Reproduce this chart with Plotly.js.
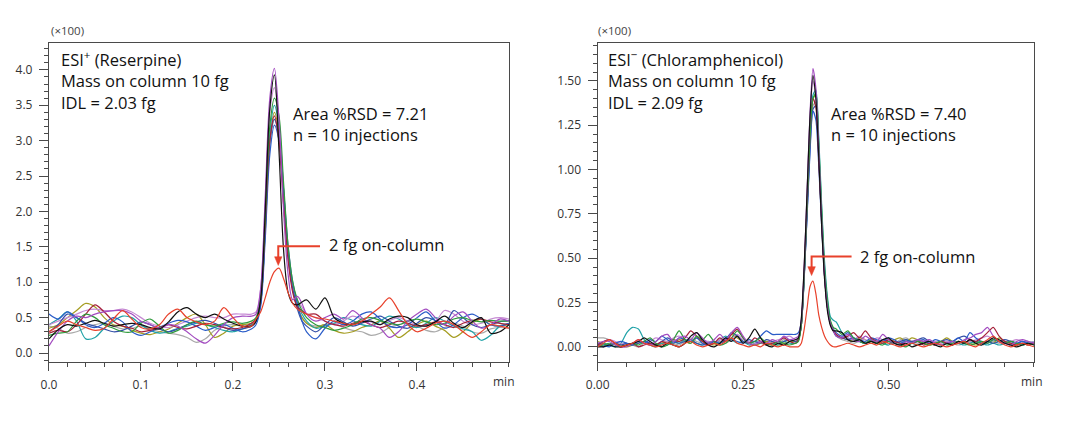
<!DOCTYPE html>
<html>
<head>
<meta charset="utf-8">
<script src="https://cdn.plot.ly/plotly-3.0.1.min.js"></script>
<style>html,body{margin:0;padding:0;background:#fff}#chart{width:1090px;height:424px}</style>
</head>
<body>
<div id="chart"></div>
<script>
// ---------------- DATA ----------------
// Left panel: ESI+ (Reserpine), time in min, intensity (x100)
const tPos = [0,0.01,0.02,0.03,0.04,0.05,0.06,0.07,0.08,0.09,0.10,0.11,0.12,0.13,0.14,0.15,0.16,0.17,0.18,0.19,0.20,0.21,0.22,
  0.225,0.23,0.235,0.24,0.245,0.25,0.255,0.26,0.265,0.27,0.275,0.28,
  0.29,0.30,0.31,0.32,0.33,0.34,0.35,0.36,0.37,0.38,0.39,0.40,0.41,0.42,0.43,0.44,0.45,0.46,0.47,0.48,0.49,0.50];

const posBlack = [0.20,0.33,0.40,0.38,0.42,0.46,0.42,0.38,0.40,0.42,0.40,0.36,0.34,0.44,0.58,0.64,0.55,0.50,0.55,0.48,0.42,0.38,0.38,
  0.45,0.75,2.0,3.45,3.93,2.85,1.45,0.85,0.70,0.68,0.72,0.75,
  0.62,0.78,0.50,0.42,0.40,0.44,0.45,0.40,0.48,0.52,0.50,0.40,0.38,0.44,0.52,0.42,0.36,0.44,0.50,0.28,0.30,0.40];
const posPurple = [0.10,0.30,0.45,0.52,0.50,0.55,0.58,0.60,0.60,0.55,0.45,0.40,0.35,0.40,0.38,0.30,0.20,0.14,0.25,0.40,0.50,0.52,0.52,
  0.55,0.90,2.2,3.6,4.02,3.3,2.0,1.1,0.75,0.80,0.70,0.55,
  0.45,0.50,0.55,0.48,0.60,0.50,0.40,0.35,0.22,0.30,0.45,0.55,0.62,0.50,0.40,0.52,0.58,0.45,0.35,0.40,0.48,0.45];
const posGreen = [0.25,0.28,0.30,0.45,0.55,0.50,0.40,0.35,0.30,0.30,0.42,0.48,0.38,0.28,0.32,0.40,0.45,0.40,0.38,0.42,0.44,0.42,0.45,
  0.50,0.80,1.9,3.2,3.6,3.35,2.4,1.5,1.0,0.75,0.60,0.50,
  0.40,0.36,0.32,0.35,0.40,0.48,0.50,0.46,0.42,0.40,0.45,0.48,0.44,0.40,0.42,0.48,0.50,0.46,0.44,0.46,0.45,0.45];
const posDarkRed = [0.28,0.32,0.30,0.40,0.55,0.68,0.58,0.45,0.38,0.35,0.30,0.32,0.36,0.40,0.36,0.34,0.38,0.42,0.40,0.36,0.34,0.36,0.42,
  0.48,0.75,1.8,3.0,3.35,3.0,2.1,1.3,0.85,0.65,0.60,0.55,
  0.55,0.45,0.40,0.38,0.42,0.45,0.40,0.36,0.40,0.45,0.42,0.38,0.40,0.44,0.40,0.36,0.42,0.46,0.48,0.44,0.42,0.40];
const posBlue = [0.55,0.48,0.58,0.50,0.40,0.36,0.42,0.50,0.44,0.30,0.25,0.30,0.36,0.42,0.46,0.44,0.38,0.32,0.36,0.40,0.35,0.30,0.34,
  0.40,0.65,1.6,2.8,3.22,3.0,2.3,1.5,1.0,0.70,0.45,0.30,
  0.20,0.35,0.45,0.40,0.45,0.55,0.58,0.48,0.38,0.36,0.40,0.50,0.58,0.45,0.35,0.40,0.50,0.55,0.48,0.40,0.38,0.42];
const posTeal = [0.40,0.48,0.58,0.45,0.20,0.22,0.35,0.45,0.52,0.50,0.40,0.32,0.28,0.30,0.35,0.38,0.42,0.40,0.36,0.32,0.30,0.34,0.40,
  0.46,0.70,1.8,3.1,3.5,3.2,2.3,1.4,0.95,0.70,0.55,0.45,
  0.35,0.38,0.42,0.50,0.46,0.40,0.38,0.45,0.52,0.48,0.40,0.36,0.42,0.50,0.45,0.38,0.34,0.30,0.18,0.25,0.38,0.42];
const posOlive = [0.35,0.40,0.50,0.60,0.70,0.65,0.50,0.40,0.38,0.32,0.28,0.26,0.30,0.34,0.42,0.50,0.55,0.40,0.22,0.28,0.38,0.40,0.42,
  0.48,0.72,1.7,3.0,3.4,3.1,2.2,1.4,0.9,0.65,0.50,0.42,
  0.36,0.40,0.32,0.28,0.30,0.36,0.40,0.45,0.35,0.22,0.30,0.40,0.45,0.38,0.32,0.22,0.30,0.42,0.48,0.40,0.38,0.40];
const posGray = [0.38,0.35,0.28,0.30,0.36,0.40,0.42,0.38,0.34,0.35,0.38,0.34,0.30,0.28,0.26,0.22,0.15,0.20,0.32,0.38,0.40,0.38,0.40,
  0.45,0.70,1.7,2.9,3.3,3.0,2.1,1.3,0.9,0.65,0.50,0.42,
  0.38,0.40,0.42,0.36,0.32,0.30,0.25,0.28,0.36,0.40,0.42,0.38,0.32,0.30,0.36,0.42,0.38,0.30,0.28,0.34,0.36,0.35];
const posLavender = [0.40,0.45,0.50,0.55,0.60,0.62,0.60,0.60,0.62,0.58,0.50,0.42,0.38,0.36,0.40,0.45,0.50,0.52,0.50,0.50,0.55,0.55,0.55,
  0.58,0.90,2.1,3.4,3.75,3.3,2.3,1.4,0.95,0.75,0.65,0.55,
  0.50,0.45,0.40,0.45,0.52,0.48,0.44,0.40,0.46,0.50,0.45,0.40,0.38,0.44,0.60,0.55,0.45,0.40,0.42,0.48,0.50,0.48];
const posNavy = [0.30,0.40,0.55,0.50,0.42,0.38,0.34,0.30,0.32,0.38,0.44,0.40,0.34,0.30,0.34,0.40,0.44,0.46,0.42,0.36,0.32,0.34,0.38,
  0.44,0.70,1.75,3.0,3.3,3.05,2.2,1.4,0.9,0.62,0.45,0.38,
  0.30,0.40,0.50,0.44,0.38,0.42,0.48,0.52,0.45,0.38,0.35,0.42,0.50,0.46,0.40,0.60,0.50,0.40,0.36,0.40,0.44,0.46];
const pos2fg = [0.30,0.38,0.45,0.40,0.36,0.32,0.35,0.48,0.60,0.48,0.36,0.34,0.40,0.55,0.62,0.50,0.44,0.40,0.45,0.64,0.50,0.38,0.38,
  0.48,0.58,0.78,1.0,1.15,1.2,1.05,0.85,0.70,0.62,0.58,0.55,
  0.50,0.48,0.45,0.42,0.40,0.45,0.55,0.65,0.78,0.60,0.40,0.30,0.35,0.42,0.45,0.40,0.30,0.22,0.30,0.40,0.38,0.35];

// Right panel: ESI- (Chloramphenicol)
const tNeg = [0,0.01,0.02,0.03,0.04,0.05,0.06,0.07,0.08,0.09,0.10,0.11,0.12,0.13,0.14,0.15,0.16,0.17,0.18,0.19,
  0.20,0.21,0.22,0.23,0.24,0.25,0.26,0.27,0.28,0.29,0.30,0.31,0.32,0.33,0.34,
  0.345,0.35,0.355,0.36,0.365,0.37,0.375,0.38,0.385,0.39,0.395,0.40,0.405,
  0.41,0.42,0.43,0.44,0.45,0.46,0.47,0.48,0.49,0.50,0.51,0.52,0.53,0.54,0.55,0.56,0.57,0.58,0.59,0.60,
  0.61,0.62,0.63,0.64,0.65,0.66,0.67,0.68,0.69,0.70,0.71,0.72,0.73,0.74,0.75];

const negBlack = [0.0,0.0,0.01,0.0,0.0,0.01,0.02,0.03,0.05,0.03, 0.01,0.0,0.02,0.01,0.0,0.02,0.06,0.08,0.04,0.01, 0.0,0.02,0.05,0.03,0.06,0.02,0.05,0.10,0.05,0.01, 0.0,0.02,0.01,0.03,0.04,
  0.05,0.16,0.46,0.88,1.30,1.53,1.40,1.07,0.68,0.38,0.20,0.12,0.09,
  0.09,0.08,0.04,0.03,0.04,0.02,0.03,0.02,0.04,0.05, 0.02,0.01,0.02,0.0,0.01,0.02,0.03,0.01,0.0,0.02, 0.01,0.03,0.02,0.04,0.02,0.01,0.03,0.05,0.04,0.02, 0.01,0.0,0.01,0.02,0.01];
const negPurple = [0.02,0.03,0.03,0.01,0.0,0.0,0.02,0.04,0.02,0.01, 0.03,0.06,0.07,0.03,0.05,0.06,0.04,0.08,0.05,0.02, 0.04,0.07,0.04,0.08,0.11,0.06,0.02,0.01,0.03,0.02, 0.04,0.03,0.06,0.04,0.05,
  0.06,0.15,0.45,0.88,1.32,1.57,1.46,1.12,0.72,0.40,0.22,0.13,0.09,
  0.06,0.05,0.07,0.04,0.03,0.06,0.04,0.03,0.07,0.04, 0.02,0.01,0.03,0.02,0.04,0.03,0.04,0.02,0.01,0.02, 0.03,0.02,0.04,0.05,0.07,0.08,0.11,0.06,0.03,0.02, 0.01,0.03,0.04,0.03,0.02];
const negGreen = [0.0,0.01,0.02,0.01,0.0,0.01,0.02,0.01,0.03,0.05, 0.02,0.0,0.01,0.04,0.09,0.04,0.02,0.06,0.04,0.07, 0.03,0.01,0.02,0.05,0.09,0.05,0.02,0.03,0.05,0.02, 0.01,0.03,0.02,0.01,0.02,
  0.03,0.12,0.40,0.80,1.18,1.40,1.43,1.15,0.78,0.45,0.26,0.15,0.11,
  0.10,0.07,0.09,0.05,0.03,0.02,0.04,0.02,0.01,0.03, 0.02,0.01,0.0,0.02,0.03,0.02,0.01,0.02,0.03,0.01, 0.02,0.03,0.02,0.01,0.02,0.03,0.02,0.04,0.03,0.02, 0.03,0.02,0.01,0.02,0.01];
const negDarkRed = [0.01,0.03,0.04,0.02,0.0,0.01,0.02,0.0,0.01,0.02, 0.01,0.03,0.02,0.04,0.03,0.05,0.09,0.06,0.03,0.01, 0.02,0.05,0.03,0.07,0.10,0.05,0.02,0.05,0.03,0.01, 0.02,0.03,0.05,0.03,0.02,
  0.04,0.13,0.42,0.80,1.18,1.40,1.35,1.05,0.70,0.40,0.22,0.13,0.09,
  0.07,0.05,0.06,0.08,0.05,0.09,0.05,0.03,0.02,0.04, 0.03,0.02,0.01,0.02,0.03,0.01,0.02,0.01,0.03,0.02, 0.01,0.03,0.02,0.04,0.03,0.05,0.08,0.11,0.06,0.03, 0.02,0.01,0.02,0.01,0.02];
const negBlue = [0.02,0.01,0.0,0.02,0.03,0.02,0.01,0.03,0.02,0.04, 0.03,0.06,0.04,0.02,0.05,0.04,0.03,0.05,0.02,0.01, 0.03,0.02,0.05,0.04,0.03,0.02,0.04,0.03,0.06,0.09, 0.07,0.07,0.07,0.07,0.07,
  0.08,0.14,0.40,0.74,1.10,1.33,1.28,1.02,0.68,0.40,0.22,0.14,0.10,
  0.08,0.06,0.08,0.05,0.04,0.03,0.05,0.04,0.03,0.05, 0.04,0.02,0.03,0.02,0.03,0.04,0.02,0.04,0.03,0.02, 0.03,0.05,0.03,0.08,0.05,0.03,0.02,0.04,0.03,0.02, 0.03,0.02,0.03,0.02,0.02];
const negTeal = [0.01,0.02,0.01,0.0,0.02,0.08,0.11,0.10,0.04,0.01, 0.0,0.02,0.01,0.03,0.02,0.04,0.03,0.02,0.01,0.03, 0.02,0.04,0.06,0.04,0.02,0.03,0.01,0.02,0.03,0.01, 0.02,0.01,0.03,0.02,0.02,
  0.04,0.12,0.40,0.80,1.20,1.42,1.45,1.18,0.80,0.48,0.28,0.17,0.15,
  0.14,0.08,0.05,0.04,0.03,0.02,0.04,0.03,0.02,0.01, 0.03,0.02,0.04,0.02,0.01,0.02,0.03,0.02,0.01,0.02, 0.03,0.02,0.01,0.02,0.03,0.02,0.01,0.02,0.01,0.02, 0.03,0.02,0.01,0.02,0.03];
const negOlive = [0.03,0.02,0.01,0.02,0.01,0.0,0.01,0.02,0.03,0.02, 0.01,0.02,0.03,0.02,0.04,0.03,0.02,0.05,0.03,0.02, 0.01,0.02,0.04,0.07,0.05,0.03,0.02,0.01,0.02,0.03, 0.02,0.01,0.02,0.03,0.03,
  0.04,0.12,0.40,0.80,1.18,1.40,1.42,1.12,0.75,0.43,0.24,0.14,0.10,
  0.07,0.05,0.04,0.03,0.05,0.04,0.02,0.03,0.02,0.03, 0.04,0.05,0.03,0.05,0.04,0.02,0.01,0.02,0.03,0.05, 0.03,0.02,0.03,0.02,0.01,0.02,0.03,0.02,0.05,0.03, 0.02,0.01,0.02,0.01,0.02];
const negGray = [0.05,0.05,0.04,0.02,0.01,0.02,0.01,0.0,0.02,0.01, 0.02,0.01,0.03,0.02,0.01,0.03,0.05,0.03,0.02,0.01, 0.02,0.03,0.02,0.04,0.06,0.03,0.02,0.01,0.02,0.01, 0.03,0.02,0.04,0.03,0.03,
  0.04,0.12,0.38,0.76,1.14,1.36,1.38,1.08,0.72,0.42,0.23,0.13,0.09,
  0.06,0.04,0.03,0.02,0.03,0.02,0.04,0.03,0.02,0.03, 0.02,0.04,0.05,0.03,0.02,0.03,0.02,0.01,0.02,0.03, 0.02,0.01,0.02,0.03,0.02,0.01,0.02,0.03,0.02,0.03, 0.02,0.01,0.02,0.03,0.02];
const negLavender = [0.02,0.03,0.04,0.03,0.02,0.01,0.02,0.03,0.02,0.03, 0.05,0.04,0.03,0.05,0.06,0.04,0.03,0.05,0.04,0.03, 0.02,0.04,0.03,0.05,0.07,0.04,0.03,0.02,0.03,0.02, 0.03,0.04,0.05,0.06,0.04,
  0.05,0.14,0.44,0.86,1.28,1.50,1.42,1.10,0.72,0.40,0.22,0.13,0.09,
  0.07,0.06,0.05,0.04,0.06,0.04,0.03,0.05,0.04,0.03, 0.02,0.03,0.02,0.03,0.04,0.03,0.02,0.03,0.02,0.03, 0.02,0.03,0.02,0.03,0.04,0.05,0.06,0.04,0.03,0.02, 0.03,0.04,0.03,0.02,0.03];
const negNavy = [0.01,0.0,0.01,0.02,0.01,0.02,0.01,0.02,0.03,0.02, 0.01,0.03,0.05,0.03,0.02,0.03,0.04,0.02,0.01,0.02, 0.03,0.02,0.04,0.08,0.06,0.03,0.02,0.03,0.02,0.04, 0.03,0.02,0.03,0.04,0.03,
  0.04,0.12,0.39,0.76,1.12,1.34,1.36,1.08,0.72,0.42,0.23,0.13,0.09,
  0.06,0.05,0.04,0.05,0.03,0.02,0.03,0.02,0.04,0.03, 0.02,0.03,0.04,0.03,0.04,0.05,0.03,0.02,0.03,0.04, 0.03,0.05,0.06,0.04,0.03,0.02,0.03,0.02,0.03,0.04, 0.03,0.02,0.03,0.02,0.02];
const neg2fg = [0.0,0.02,0.04,0.02,0.0,0.01,0.02,0.04,0.02,0.01, 0.0,0.01,0.02,0.01,0.0,0.02,0.03,0.01,0.0,0.01, 0.02,0.01,0.03,0.05,0.02,0.01,0.0,0.01,0.0,0.02, 0.01,0.0,0.01,0.0,0.0,
  0.0,0.02,0.10,0.22,0.34,0.37,0.30,0.18,0.11,0.06,0.03,0.01,0.0,
  0.0,0.01,0.02,0.01,0.0,0.01,0.02,0.01,0.03,0.02, 0.01,0.0,0.01,0.02,0.01,0.0,0.01,0.02,0.01,0.0, 0.01,0.02,0.03,0.01,0.0,0.02,0.04,0.06,0.03,0.01, 0.0,0.01,0.02,0.01,0.0];

const xTicksPos = [0, 0.1, 0.2, 0.3, 0.4];
const xTickTextPos = ['0.0', '0.1', '0.2', '0.3', '0.4'];
const yTicksPos = [0, 0.5, 1.0, 1.5, 2.0, 2.5, 3.0, 3.5, 4.0];
const xTicksNeg = [0, 0.25, 0.5];
const xTickTextNeg = ['0.00', '0.25', '0.50'];
const yTicksNeg = [0, 0.25, 0.5, 0.75, 1.0, 1.25, 1.5];

// ---------------- PLOT ----------------
const seriesOrder = [
  ['gray', '#a9a9a9'], ['olive', '#a59d22'], ['teal', '#20a2a8'], ['lavender', '#c68ad3'],
  ['navy', '#3450a8'], ['blue', '#2a5cc8'], ['darkred', '#a5203a'], ['green', '#2f9a3c'],
  ['purple', '#a34cc0'], ['black', '#111111'], ['2fg', '#e8412b']
];
const posMap = {gray: posGray, olive: posOlive, teal: posTeal, lavender: posLavender, navy: posNavy, blue: posBlue,
  darkred: posDarkRed, green: posGreen, purple: posPurple, black: posBlack, '2fg': pos2fg};
const negMap = {gray: negGray, olive: negOlive, teal: negTeal, lavender: negLavender, navy: negNavy, blue: negBlue,
  darkred: negDarkRed, green: negGreen, purple: negPurple, black: negBlack, '2fg': neg2fg};

const traces = [];
const problems = [];
seriesOrder.forEach(([k, c]) => {
  if (posMap[k].length !== tPos.length) problems.push('pos ' + k + ' ' + posMap[k].length);
  if (negMap[k].length !== tNeg.length) problems.push('neg ' + k + ' ' + negMap[k].length);
  traces.push({x: tPos, y: posMap[k], type: 'scatter', mode: 'lines', xaxis: 'x', yaxis: 'y',
    line: {color: c, width: 1.2, shape: 'spline', smoothing: 0.9}, hoverinfo: 'skip', showlegend: false});
  traces.push({x: tNeg, y: negMap[k], type: 'scatter', mode: 'lines', xaxis: 'x2', yaxis: 'y2',
    line: {color: c, width: 1.2, shape: 'spline', smoothing: 0.7}, hoverinfo: 'skip', showlegend: false});
});

const axCol = '#4a4a4a';
const tickFont = {family: 'Open Sans, Noto Sans, sans-serif', size: 12, color: '#333'};
function xax(domain, range, tv, tt, minorDt, anchor) {
  return {domain, range, anchor, showline: true, mirror: true, linecolor: axCol, linewidth: 1.2,
    ticks: 'outside', ticklen: 8, tickwidth: 1, tickcolor: axCol, tickmode: 'array', tickvals: tv, ticktext: tt,
    minor: {ticks: 'outside', ticklen: 4, dtick: minorDt, tick0: 0, tickcolor: axCol, tickwidth: 1, showgrid: false},
    showgrid: false, zeroline: false, tickfont: tickFont, ticklabelstandoff: 4, fixedrange: true};
}
function yax(domain, range, tv, fmt, minorDt, anchor) {
  return {domain, range, anchor, showline: true, mirror: true, linecolor: axCol, linewidth: 1.2,
    ticks: 'outside', ticklen: 9, tickwidth: 1, tickcolor: axCol, tickmode: 'array', tickvals: tv,
    ticktext: tv.map(v => v.toFixed(fmt)),
    minor: {ticks: 'outside', ticklen: 4, dtick: minorDt, tick0: 0, tickcolor: axCol, tickwidth: 1, showgrid: false},
    showgrid: false, zeroline: false, tickfont: tickFont, ticklabelstandoff: 4, fixedrange: true};
}

const txtFont = {family: 'Open Sans, Noto Sans, sans-serif', size: 16.5, color: '#111'};
const smallFont = {family: 'Open Sans, Noto Sans, sans-serif', size: 11.5, color: '#444'};
const redCol = '#e8412b';
function ann(x, y, text, font, xanchor) {
  return {xref: 'paper', yref: 'paper', x, y, text, showarrow: false, xanchor: xanchor || 'left', yanchor: 'middle', font, align: 'left'};
}
const annotations = [
  ann(0.0619, 0.9292, '(×100)', smallFont, 'center'),
  ann(0.5642, 0.9292, '(×100)', smallFont, 'center'),
  ann(0.0540, 0.8113, 'ESI<sup>+</sup> (Reserpine)<br>Mass on column 10 fg<br>IDL = 2.03 fg', txtFont),
  ann(0.2666, 0.7080, 'Area %RSD = 7.21<br>n = 10 injections', txtFont),
  ann(0.3000, 0.4238, '2 fg on-column', txtFont),
  ann(0.5556, 0.8113, 'ESI<sup>−</sup> (Chloramphenicol)<br>Mass on column 10 fg<br>IDL = 2.09 fg', txtFont),
  ann(0.7605, 0.7080, 'Area %RSD = 7.40<br>n = 10 injections', txtFont),
  ann(0.7871, 0.3946, '2 fg on-column', txtFont),
  ann(0.4624, 0.0991, 'min', tickFont, 'center'),
  ann(0.9465, 0.0991, 'min', tickFont, 'center')
];
if (problems.length) annotations.push(ann(0.3, 0.5, 'LEN: ' + problems.join('; '), {size: 14, color: 'red'}));

const shapes = [
  {type: 'path', xref: 'x', yref: 'y', path: 'M 0.2946,1.51 L 0.2492,1.51 L 0.2492,1.34', line: {color: redCol, width: 2}},
  {type: 'path', xref: 'x', yref: 'y', path: 'M 0.2452,1.36 L 0.2532,1.36 L 0.2492,1.237 Z', fillcolor: redCol, line: {color: redCol, width: 0.5}},
  {type: 'path', xref: 'x2', yref: 'y2', path: 'M 0.4364,0.509 L 0.3677,0.509 L 0.3677,0.45', line: {color: redCol, width: 2}},
  {type: 'path', xref: 'x2', yref: 'y2', path: 'M 0.3612,0.452 L 0.3742,0.452 L 0.3677,0.402 Z', fillcolor: redCol, line: {color: redCol, width: 0.5}}
];

const layout = {
  width: 1090, height: 424, margin: {l: 0, r: 0, t: 0, b: 0},
  paper_bgcolor: '#fff', plot_bgcolor: '#fff', showlegend: false,
  xaxis: xax([0.04495, 0.46697], [0, 0.5], xTicksPos, xTickTextPos, 0.02, 'y'),
  yaxis: yax([0.1474, 0.8986], [-0.12, 4.38], yTicksPos, 1, 0.1, 'x'),
  xaxis2: xax([0.54835, 0.94862], [0, 0.75], xTicksNeg, xTickTextNeg, 0.05, 'y2'),
  yaxis2: yax([0.1474, 0.8986], [-0.083, 1.714], yTicksNeg, 2, 0.05, 'x2'),
  annotations, shapes
};
Plotly.newPlot('chart', traces, layout, {displayModeBar: false, staticPlot: true});
</script>
</body>
</html>
